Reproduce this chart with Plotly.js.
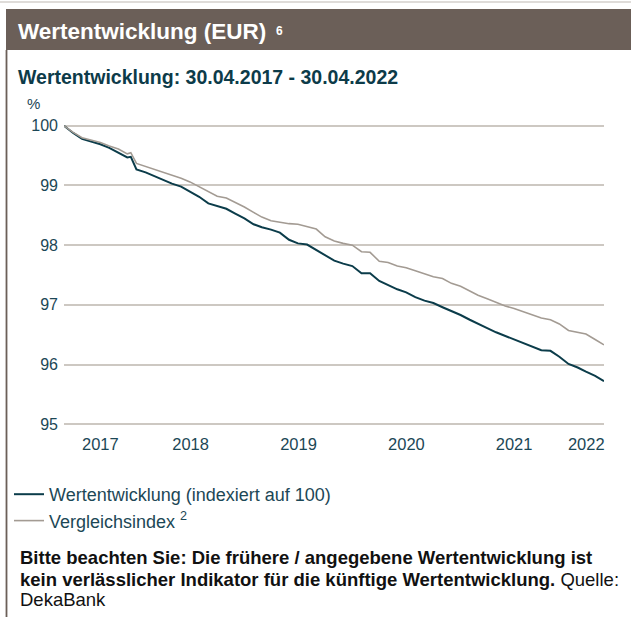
<!DOCTYPE html>
<html>
<head>
<meta charset="utf-8">
<script src="https://cdn.plot.ly/plotly-3.0.1.min.js"></script>
<style>
  html, body { margin: 0; padding: 0; background: #ffffff; }
  #chart { width: 631px; height: 617px; }
</style>
</head>
<body>
<div id="chart"></div>
<script>
// ---- Data ----
const dates = [
  '2017-04-30','2017-05-31','2017-06-30','2017-07-31','2017-08-31','2017-09-30','2017-10-31','2017-11-30','2017-12-12','2017-12-31',
  '2018-01-31','2018-02-28','2018-03-31','2018-04-30','2018-05-31','2018-06-30','2018-07-31','2018-08-31','2018-09-30','2018-10-31',
  '2018-11-30','2018-12-31','2019-01-31','2019-02-28','2019-03-31','2019-04-30','2019-05-31','2019-06-30','2019-07-31','2019-08-31',
  '2019-09-30','2019-10-31','2019-11-30','2019-12-31','2020-01-31','2020-02-29','2020-03-31','2020-04-30','2020-05-31','2020-06-30',
  '2020-07-31','2020-08-31','2020-09-30','2020-10-31','2020-11-30','2020-12-31','2021-01-31','2021-02-28','2021-03-31','2021-04-30',
  '2021-05-31','2021-06-30','2021-07-31','2021-08-31','2021-09-30','2021-10-31','2021-11-30','2021-12-31','2022-01-31','2022-02-28',
  '2022-03-31','2022-04-30'
];
const fundValues = [
  100.00, 99.88, 99.78, 99.74, 99.69, 99.63, 99.55, 99.47, 99.48, 99.27,
  99.22, 99.16, 99.10, 99.03, 98.98, 98.89, 98.81, 98.70, 98.65, 98.61,
  98.53, 98.45, 98.35, 98.30, 98.26, 98.21, 98.09, 98.03, 98.01, 97.92,
  97.83, 97.74, 97.69, 97.65, 97.53, 97.53, 97.40, 97.33, 97.26, 97.21,
  97.13, 97.07, 97.03, 96.96, 96.90, 96.83, 96.75, 96.69, 96.61, 96.54,
  96.48, 96.41, 96.35, 96.29, 96.24, 96.23, 96.13, 96.01, 95.95, 95.88,
  95.81, 95.72
];
const indexValues = [
  100.00, 99.89, 99.80, 99.76, 99.72, 99.66, 99.61, 99.53, 99.55, 99.37,
  99.32, 99.28, 99.23, 99.18, 99.12, 99.06, 98.98, 98.89, 98.82, 98.79,
  98.72, 98.64, 98.55, 98.47, 98.41, 98.38, 98.36, 98.35, 98.31, 98.27,
  98.14, 98.07, 98.03, 98.00, 97.89, 97.88, 97.73, 97.71, 97.65, 97.62,
  97.57, 97.52, 97.47, 97.44, 97.36, 97.31, 97.23, 97.16, 97.10, 97.04,
  96.98, 96.94, 96.89, 96.83, 96.78, 96.75, 96.68, 96.57, 96.54, 96.51,
  96.42, 96.33
];
const yearTickVals = ['2017-08-31','2018-07-02','2019-07-02','2020-07-01','2021-06-30','2022-03-01'];
const yearTickText = ['2017','2018','2019','2020','2021','2022'];
const yTickVals = [95, 96, 97, 98, 99, 100];
const seriesNames = ['Wertentwicklung (indexiert auf 100)', 'Vergleichsindex <sup>2</sup>'];
const footerLines = [
  '<b>Bitte beachten Sie: Die frühere / angegebene Wertentwicklung ist</b>',
  '<b>kein verlässlicher Indikator für die künftige Wertentwicklung.</b> Quelle:',
  'DekaBank'
];

// ---- Layout geometry (pixels) ----
const W = 631, Hh = 617;
const L = 64, R = 27, T = 124, PH = 302;
const B = Hh - T - PH;
const PW = W - L - R;
const px = x => (x - L) / PW;          // pixel x -> paper x
const py = y => (T + PH - y) / PH;     // pixel y -> paper y

const teal = '#0d3b49';
const tickCol = '#1c4756';
const font = 'Liberation Sans, Arial, Helvetica, sans-serif';

const traces = [
  { x: dates, y: fundValues, type: 'scatter', mode: 'lines', name: seriesNames[0],
    line: { color: '#0b3c4a', width: 2 } },
  { x: dates, y: indexValues, type: 'scatter', mode: 'lines', name: seriesNames[1],
    line: { color: '#a39b93', width: 1.6 } }
];

const footerY = [557, 579, 599];
const footerAnn = footerLines.map((t, i) => ({
  text: t, xref: 'paper', yref: 'paper', x: px(18), y: py(footerY[i]),
  xanchor: 'left', yanchor: 'middle', align: 'left', showarrow: false,
  font: { family: font, size: 18.5, color: '#111111' }
}));

const layout = {
  width: W, height: Hh,
  margin: { l: L, r: R, t: T, b: B, pad: 0, autoexpand: false },
  paper_bgcolor: '#ffffff', plot_bgcolor: '#ffffff',
  font: { family: font, color: tickCol, size: 16 },
  showlegend: true,
  legend: {
    xref: 'container', yref: 'container',
    x: 9 / W, y: 1 - 476 / Hh, xanchor: 'left', yanchor: 'top',
    orientation: 'v', bgcolor: 'rgba(0,0,0,0)',
    font: { family: font, size: 18, color: tickCol },
    tracegroupgap: 0, itemwidth: 30
  },
  title: {
    text: '<b>Wertentwicklung: 30.04.2017 - 30.04.2022</b>',
    xref: 'container', yref: 'container',
    x: 18 / W, xanchor: 'left', y: 1 - 77 / Hh, yanchor: 'middle',
    font: { family: font, size: 19.5, color: teal }
  },
  xaxis: {
    type: 'date', range: [dates[0], dates[dates.length - 1]],
    tickmode: 'array', tickvals: yearTickVals, ticktext: yearTickText,
    showgrid: false, zeroline: false, showline: false, ticks: '',
    ticklabelstandoff: 6,
    tickfont: { family: font, size: 16.5, color: tickCol }, fixedrange: true
  },
  yaxis: {
    range: [94.97, 100.03],
    tickmode: 'array', tickvals: yTickVals,
    showgrid: true, gridcolor: '#cdc8c2', gridwidth: 2,
    zeroline: false, showline: false, ticks: '',
    ticklabelstandoff: 5,
    tickfont: { family: font, size: 16, color: tickCol }, fixedrange: true
  },
  shapes: [
    { type: 'line', xref: 'paper', yref: 'paper', x0: px(0), x1: px(631), y0: py(2), y1: py(2),
      line: { color: '#d4d0cc', width: 1.5 } },
    { type: 'rect', xref: 'paper', yref: 'paper', x0: px(6), x1: px(631), y0: py(50), y1: py(9),
      fillcolor: '#6b5f58', line: { width: 0 }, layer: 'below' },
    { type: 'line', xref: 'paper', yref: 'paper', x0: px(6.5), x1: px(6.5), y0: py(50), y1: py(617),
      line: { color: '#6b5f58', width: 1.8 } }
  ],
  annotations: [
    { text: '<b>Wertentwicklung (EUR)</b>', xref: 'paper', yref: 'paper',
      x: px(16), y: py(31), xanchor: 'left', yanchor: 'middle', showarrow: false,
      font: { family: font, size: 22.5, color: '#ffffff' } },
    { text: '<b>6</b>', xref: 'paper', yref: 'paper',
      x: px(279), y: py(31), xanchor: 'center', yanchor: 'middle', showarrow: false,
      font: { family: font, size: 12, color: '#ffffff' } },
    { text: '%', xref: 'paper', yref: 'paper', x: px(25), y: py(103), xanchor: 'left', yanchor: 'middle',
      showarrow: false, font: { family: font, size: 15, color: tickCol } }
  ].concat(footerAnn)
};

Plotly.newPlot('chart', traces, layout, { staticPlot: true, displayModeBar: false });
</script>
</body>
</html>
